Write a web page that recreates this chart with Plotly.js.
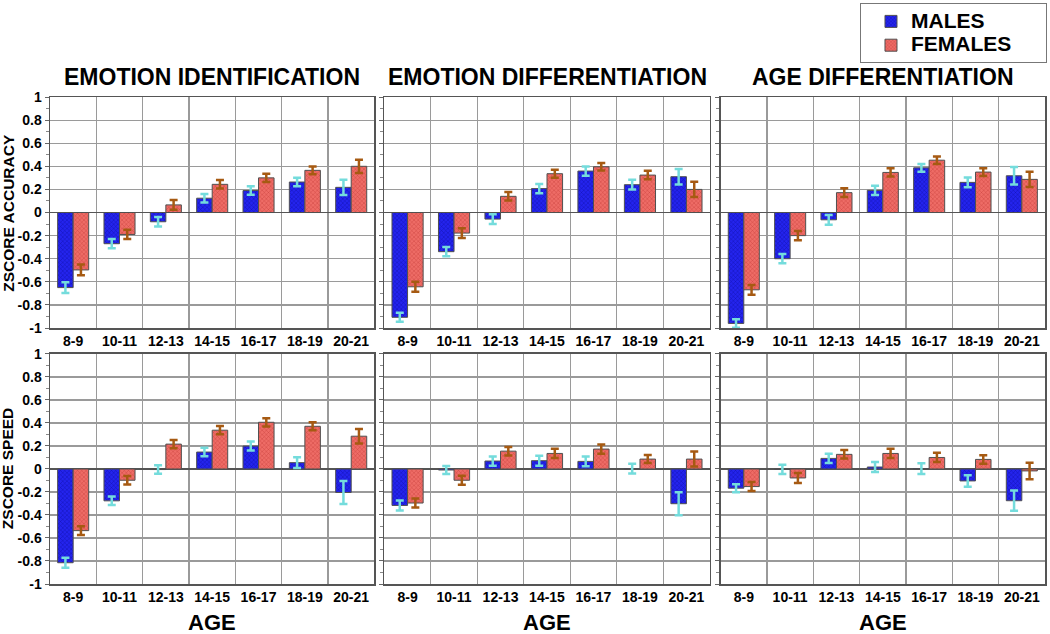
<!DOCTYPE html>
<html>
<head>
<meta charset="utf-8">
<script src="https://cdn.plot.ly/plotly-3.0.1.min.js"></script>
<style>html,body{margin:0;padding:0;background:#fff;}#chart{width:1050px;height:634px;}</style>
</head>
<body>
<div id="chart"></div>
<script>
// ---- Data ----
const ageGroups = ['8-9', '10-11', '12-13', '14-15', '16-17', '18-19', '20-21'];
const seriesNames = ['MALES', 'FEMALES'];
const panelTitles = ['EMOTION IDENTIFICATION', 'EMOTION DIFFERENTIATION', 'AGE DIFFERENTIATION'];
const rowTitles = ['ZSCORE ACCURACY', 'ZSCORE SPEED'];
const yTickVals = [-1, -0.8, -0.6, -0.4, -0.2, 0, 0.2, 0.4, 0.6, 0.8, 1];
const yTickText = ['-1', '-0.8', '-0.6', '-0.4', '-0.2', '0', '0.2', '0.4', '0.6', '0.8', '1'];

// Accuracy
const accEmoIdMales      = [-0.65, -0.27, -0.08, 0.124, 0.19, 0.264, 0.218];
const accEmoIdMalesErr   = [0.047, 0.04, 0.042, 0.037, 0.037, 0.036, 0.066];
const accEmoIdFemales    = [-0.497, -0.19, 0.066, 0.244, 0.30, 0.365, 0.40];
const accEmoIdFemalesErr = [0.047, 0.04, 0.043, 0.037, 0.035, 0.033, 0.057];

const accEmoDiffMales      = [-0.907, -0.339, -0.057, 0.207, 0.359, 0.241, 0.31];
const accEmoDiffMalesErr   = [0.039, 0.04, 0.042, 0.04, 0.04, 0.042, 0.067];
const accEmoDiffFemales    = [-0.643, -0.178, 0.14, 0.336, 0.396, 0.324, 0.20];
const accEmoDiffFemalesErr = [0.043, 0.042, 0.037, 0.034, 0.033, 0.037, 0.066];

const accAgeDiffMales      = [-0.96, -0.40, -0.063, 0.192, 0.387, 0.261, 0.318];
const accAgeDiffMalesErr   = [0.037, 0.04, 0.042, 0.04, 0.034, 0.043, 0.076];
const accAgeDiffFemales    = [-0.669, -0.20, 0.172, 0.347, 0.453, 0.35, 0.287];
const accAgeDiffFemalesErr = [0.042, 0.04, 0.037, 0.036, 0.032, 0.033, 0.066];

// Speed
const spdEmoIdMales      = [-0.815, -0.277, -0.005, 0.147, 0.199, 0.055, -0.204];
const spdEmoIdMalesErr   = [0.043, 0.037, 0.037, 0.037, 0.039, 0.046, 0.10];
const spdEmoIdFemales    = [-0.536, -0.098, 0.216, 0.337, 0.406, 0.371, 0.285];
const spdEmoIdFemalesErr = [0.037, 0.036, 0.035, 0.036, 0.036, 0.035, 0.063];

const spdEmoDiffMales      = [-0.317, -0.009, 0.069, 0.072, 0.066, 0.003, -0.302];
const spdEmoDiffMalesErr   = [0.043, 0.035, 0.04, 0.043, 0.042, 0.043, 0.10];
const spdEmoDiffFemales    = [-0.296, -0.098, 0.155, 0.135, 0.173, 0.086, 0.086];
const spdEmoDiffFemalesErr = [0.04, 0.04, 0.037, 0.04, 0.04, 0.035, 0.065];

const spdAgeDiffMales      = [-0.167, -0.003, 0.092, 0.017, 0.003, -0.104, -0.276];
const spdAgeDiffMalesErr   = [0.035, 0.04, 0.04, 0.043, 0.047, 0.05, 0.088];
const spdAgeDiffFemales    = [-0.153, -0.078, 0.127, 0.135, 0.10, 0.083, -0.017];
const spdAgeDiffFemalesErr = [0.039, 0.043, 0.037, 0.04, 0.04, 0.037, 0.072];

// ---- Build ----
const panels = [
  [accEmoIdMales, accEmoIdMalesErr, accEmoIdFemales, accEmoIdFemalesErr],
  [accEmoDiffMales, accEmoDiffMalesErr, accEmoDiffFemales, accEmoDiffFemalesErr],
  [accAgeDiffMales, accAgeDiffMalesErr, accAgeDiffFemales, accAgeDiffFemalesErr],
  [spdEmoIdMales, spdEmoIdMalesErr, spdEmoIdFemales, spdEmoIdFemalesErr],
  [spdEmoDiffMales, spdEmoDiffMalesErr, spdEmoDiffFemales, spdEmoDiffFemalesErr],
  [spdAgeDiffMales, spdAgeDiffMalesErr, spdAgeDiffFemales, spdAgeDiffFemalesErr]
];

const maleStyle = {bg: '#2424ee', fg: '#0e0ea8', err: '#74dcdc'};
const femaleStyle = {bg: '#ee6c66', fg: '#c8403c', err: '#a65a12'};

const legendPad = '\u00a0\u00a0\u00a0\u00a0\u00a0';
const legendLabel = (s) => '<span style="font-size:21px;font-weight:bold">' + s + legendPad + '</span>';

const traces = [];
panels.forEach((p, i) => {
  const ax = i === 0 ? '' : String(i + 1);
  [[p[0], p[1], maleStyle, seriesNames[0]], [p[2], p[3], femaleStyle, seriesNames[1]]].forEach(([vals, errs, st, name]) => {
    traces.push({
      type: 'bar',
      x: ageGroups,
      y: vals,
      name: legendLabel(name),
      legendgroup: name,
      showlegend: i === 0,
      xaxis: 'x' + ax,
      yaxis: 'y' + ax,
      marker: {
        color: st.bg,
        line: {color: '#505050', width: 1},
        pattern: {shape: 'x', bgcolor: st.bg, fgcolor: st.fg, size: 3, solidity: 0.25, fillmode: 'replace'}
      },
      error_y: {type: 'data', array: errs, visible: true, color: st.err, thickness: 2.5, width: 4},
      hoverinfo: 'x+y'
    });
  });
});

const xDomains = [[0, 0.326], [0.336, 0.663], [0.674, 1.0]];
const yDomains = [[0.5256, 1.0], [0.0, 0.4724]];
const tickFont = {family: 'Liberation Sans, Arial, sans-serif', size: 14, color: '#000', weight: 'bold'};

const layout = {
  width: 1050, height: 634,
  margin: {l: 50, r: 3, t: 95, b: 50},
  paper_bgcolor: '#fff', plot_bgcolor: '#fff',
  barmode: 'group', bargap: 0.33, bargroupgap: 0,
  font: {family: 'Liberation Sans, Arial, sans-serif', color: '#000'},
  showlegend: true,
  legend: {
    x: 1.002, xanchor: 'right', y: 1.192, yanchor: 'top',
    bgcolor: '#fff', bordercolor: '#777', borderwidth: 1,
    font: {size: 16, weight: 'bold', color: '#000'},
    tracegroupgap: 0, itemwidth: 30, indentation: 10
  },
  annotations: [],
  hovermode: false
};

for (let i = 0; i < 6; i++) {
  const ax = i === 0 ? '' : String(i + 1);
  const col = i % 3, row = Math.floor(i / 3);
  layout['xaxis' + ax] = {
    domain: xDomains[col], anchor: 'y' + ax, type: 'category',
    tickson: 'boundaries', ticks: '', showgrid: true, gridcolor: '#9a9a9a', gridwidth: 1.2,
    showline: true, mirror: true, linecolor: '#555', linewidth: 1.5,
    tickfont: tickFont, fixedrange: true
  };
  layout['yaxis' + ax] = {
    domain: yDomains[row], anchor: 'x' + ax, range: [-1, 1],
    tickvals: yTickVals, ticktext: yTickText,
    showticklabels: col === 0, ticks: 'outside', ticklen: 4, tickcolor: '#666',
    minor: {dtick: 0.1, tick0: 0, ticks: 'outside', ticklen: 3, tickcolor: '#888', showgrid: false},
    showgrid: true, gridcolor: '#9a9a9a', gridwidth: 1.2,
    zeroline: true, zerolinecolor: '#555', zerolinewidth: 1.2,
    showline: true, mirror: true, linecolor: '#555', linewidth: 1.5,
    tickfont: tickFont, fixedrange: true
  };
}

// Panel titles
panelTitles.forEach((t, c) => {
  layout.annotations.push({
    text: t, xref: 'paper', yref: 'paper',
    x: (xDomains[c][0] + xDomains[c][1]) / 2, xanchor: 'center',
    y: 1.041, yanchor: 'middle', showarrow: false,
    font: {size: 23, weight: 'bold', color: '#000'}
  });
});
// Row titles
rowTitles.forEach((t, r) => {
  layout.annotations.push({
    text: t, xref: 'paper', yref: 'paper', xanchor: 'center', yanchor: 'middle',
    x: -0.042, y: (yDomains[r][0] + yDomains[r][1]) / 2,
    textangle: -90, showarrow: false,
    font: {size: 15.5, weight: 'bold', color: '#000'}
  });
});
// X titles
for (let c = 0; c < 3; c++) {
  layout.annotations.push({
    text: 'AGE', xref: 'paper', yref: 'paper',
    x: (xDomains[c][0] + xDomains[c][1]) / 2, xanchor: 'center',
    y: -0.08, yanchor: 'middle', showarrow: false,
    font: {size: 22, weight: 'bold', color: '#000'}
  });
}

Plotly.newPlot('chart', traces, layout, {displayModeBar: false, staticPlot: true});
</script>
</body>
</html>
